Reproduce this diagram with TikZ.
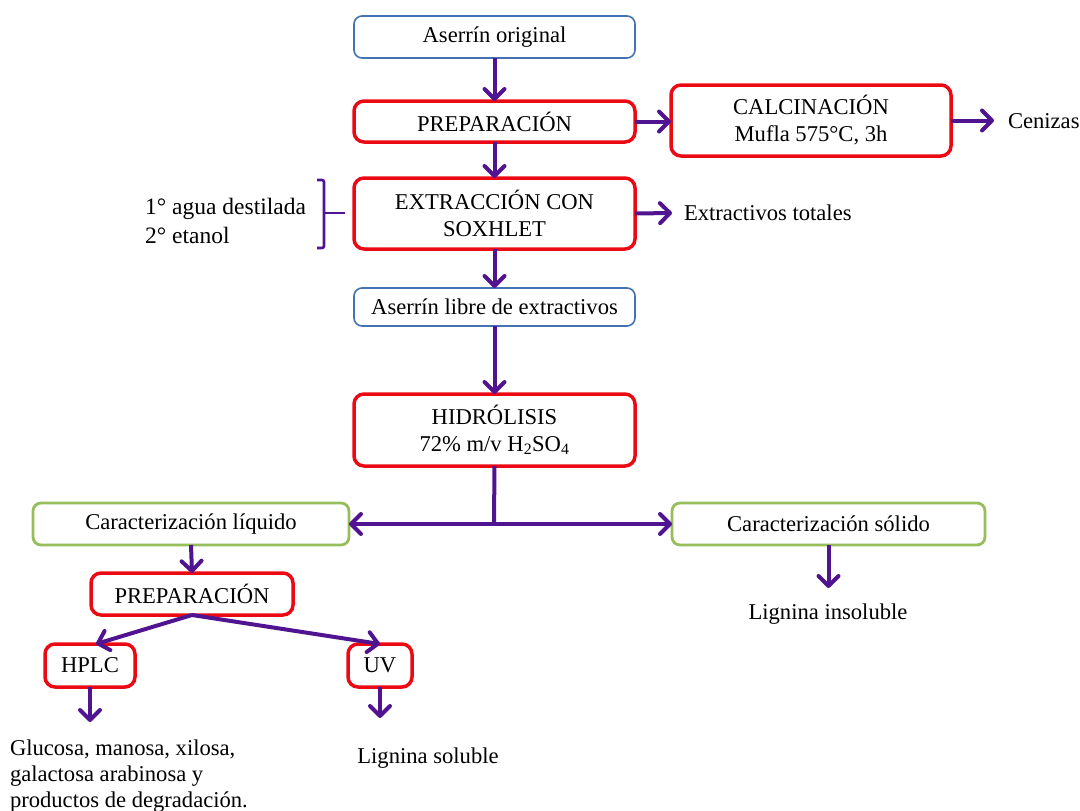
\documentclass[tikz,border=0pt]{standalone}
\usepackage{fontspec}
\setmainfont{Liberation Serif}
\usetikzlibrary{arrows.meta,calc}

\definecolor{flowred}{RGB}{235,10,20}
\definecolor{flowblue}{RGB}{68,114,180}
\definecolor{flowgreen}{RGB}{150,190,90}
\definecolor{flowpurple}{RGB}{80,20,145}

\tikzset{
  basebox/.style={fill=white, align=center, inner sep=0pt, outer sep=0pt,
    font=\fontsize{22.6}{27}\selectfont},
  redbox/.style={basebox, draw=flowred, line width=3.5pt, rounded corners=10pt},
  bluebox/.style={basebox, draw=flowblue, line width=1.6pt, rounded corners=8pt},
  greenbox/.style={basebox, draw=flowgreen, line width=2.8pt, rounded corners=8pt},
  plain/.style={inner sep=0pt, outer sep=0pt, font=\fontsize{22.6}{27}\selectfont},
  flow/.style={draw=flowpurple, line width=4pt,
    -{Straight Barb[round,length=10pt,width=20pt]}},
  flowboth/.style={draw=flowpurple, line width=4pt,
    {Straight Barb[round,length=10pt,width=20pt]}-{Straight Barb[round,length=10pt,width=20pt]}},
}

\begin{document}
\begin{tikzpicture}[x=1pt,y=-1pt]
\useasboundingbox (0,0) rectangle (1080,811);

% main column
\node[bluebox, minimum width=281pt, minimum height=42pt] (orig) at (494.5,37) {Aserrín original};
\node[redbox, minimum width=281pt, minimum height=41pt] (prep1) at (494.5,121.5) {PREPARACIÓN};
\node[redbox, minimum width=280pt, minimum height=71pt] (calc) at (811,120.5) {CALCINACIÓN\\Mufla 575°C, 3h};
\node[redbox, minimum width=281pt, minimum height=71pt] (extr) at (494.5,213.5) {EXTRACCIÓN CON\\SOXHLET};
\node[bluebox, minimum width=281pt, minimum height=38pt] (libre) at (494.5,307) {Aserrín libre de extractivos};
\node[redbox, minimum width=281pt, minimum height=72pt] (hyd) at (494.5,430) {HIDRÓLISIS\\72\% m/v H\textsubscript{2}SO\textsubscript{4}};

% side outputs
\node[plain, anchor=west, inner xsep=14pt] (cen) at (994,121) {Cenizas};
\node[plain, anchor=west, inner xsep=12pt] (extot) at (672,213) {Extractivos totales};
\node[plain, anchor=east, align=left, font=\fontsize{23.5}{29}\selectfont] (solv) at (306,221) {1° agua destilada\\2° etanol};

% solvent bracket
\coordinate (bt) at (317,180);
\coordinate (bb) at (317,248);
\coordinate (bm) at (324,213);
\coordinate (btick) at (345,213);
\draw[flowpurple, line width=2.6pt, rounded corners=2pt] (bt) -- (324,180) -- (324,248) -- (bb);
\draw[flowpurple, line width=2.6pt] (bm) -- (btick);

% characterisation branches
\node[greenbox, minimum width=316pt, minimum height=42pt] (liq) at (191,524) {Caracterización líquido};
\node[greenbox, minimum width=313pt, minimum height=42pt] (sol) at (828.5,524) {Caracterización sólido};
\node[plain, anchor=north, inner ysep=16pt] (linsol) at (828,588) {Lignina insoluble};

\node[redbox, minimum width=202pt, minimum height=42pt] (prep2) at (192,594) {PREPARACIÓN};
\node[redbox, minimum width=90pt, minimum height=43pt] (hplc) at (90,665.5) {HPLC};
\node[redbox, minimum width=64pt, minimum height=43pt] (uv) at (380,665.5) {UV};

\node[plain, anchor=north west, align=left, font=\fontsize{22.6}{26}\selectfont, inner ysep=18pt] (azuc) at (10,722) {Glucosa, manosa, xilosa,\\galactosa arabinosa y\\productos de degradación.};
\node[plain, anchor=north, inner ysep=30pt] (lsol) at (428,718) {Lignina soluble};

\coordinate (split) at (494,523);

% connectors
\draw[flow] (orig) -- (prep1);
\draw[flow] (prep1.east) -- (calc.west |- prep1.east);
\draw[flow] (calc.east) -- (cen.west |- calc.east);
\draw[flow] (prep1) -- (extr);
\draw[flow] (extr.east) -- (extot.west);
\draw[flow] (extr) -- (libre);
\draw[flow] (libre) -- (hyd);
\draw[draw=flowpurple, line width=4pt] (hyd.south) -- (split);
\draw[flowboth] (liq.east) -- (sol.west);
\draw[flow] (sol.south) -- (sol.south |- linsol.north);
\draw[flow] (liq.south) -- (prep2.north);
\draw[flow] (prep2.south) -- ($(hplc.north)+(6,0)$);
\draw[flow] (prep2.south) -- (uv.north);
\draw[flow] (hplc.south) -- (hplc.south |- azuc.north);
\draw[flow] (uv.south) -- (uv.south |- lsol.north);
\end{tikzpicture}
\end{document}
